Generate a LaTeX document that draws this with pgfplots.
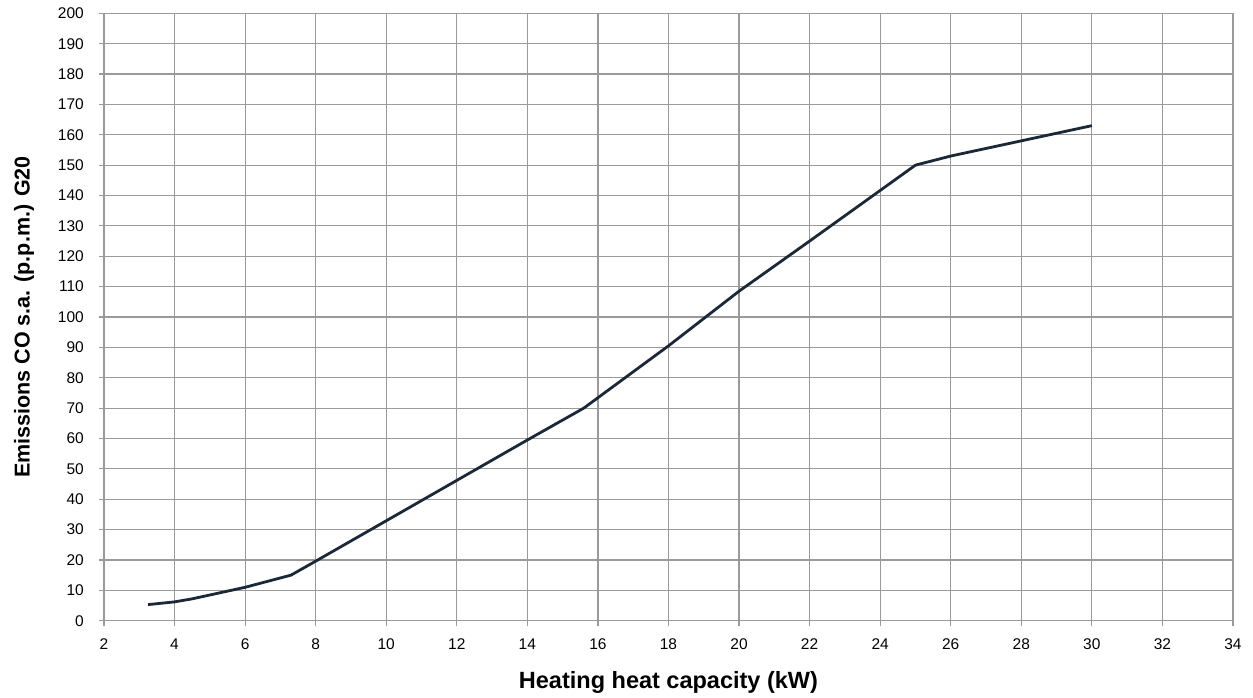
\documentclass[border=0pt]{standalone}
\usepackage{pgfplots}
\pgfplotsset{compat=1.18}
\usepackage{fontspec}
\setmainfont{Liberation Sans}
\definecolor{gridgray}{HTML}{9A9A9A}
\definecolor{linenavy}{HTML}{1B2838}
\newcommand{\tickfont}{\fontsize{15.5}{18}\selectfont}
\begin{document}
\begin{tikzpicture}
\useasboundingbox (-104pt,-76.3pt) rectangle (1149pt,620.7pt);
\begin{axis}[
  at={(0,0)}, anchor=south west,
  scale only axis,
  width=1129pt, height=607.4pt,
  xmin=2, xmax=34, ymin=0, ymax=200,
  xtick={2,4,...,34},
  ytick={0,10,...,200},
  grid=major,
  grid style={gridgray, line width=1.2pt},
  axis line style={gridgray, line width=1.2pt},
  tick style={gridgray, line width=1.2pt},
  tick align=outside,
  major tick length=5pt,
  tick pos=left,
  /pgf/number format/assume math mode=true,
  yticklabel={\tickfont\pgfmathprintnumber{\tick}},
  xticklabel={\tickfont\pgfmathprintnumber{\tick}},
  yticklabel style={inner sep=0pt, anchor=east, xshift=-15pt},
  xticklabel style={inner sep=0pt, anchor=north, yshift=-13pt},
  xlabel={Heating heat capacity (kW)},
  ylabel={Emissions CO s.a. (p.p.m.) G20},
  every axis x label/.style={at={(axis description cs:0.5,0)}, anchor=base, yshift=-67.3pt, font=\bfseries\fontsize{23.5}{26}\selectfont},
  every axis y label/.style={at={([xshift=-80pt]axis description cs:0,0.5)}, rotate=90, anchor=center, font=\bfseries\fontsize{21.5}{24}\selectfont},
]
\addplot[linenavy, line width=2.8pt, line join=round] coordinates {
  (3.25,5.3) (4,6.2) (4.5,7.2) (6,11) (7.3,15)
  (8,19.6) (10,32.9) (14,59.5) (15.6,70)
  (18,90.5) (20,108.5) (22,125) (25,150)
  (26,153) (28,158) (30,163)
};
\end{axis}
\end{tikzpicture}
\end{document}
